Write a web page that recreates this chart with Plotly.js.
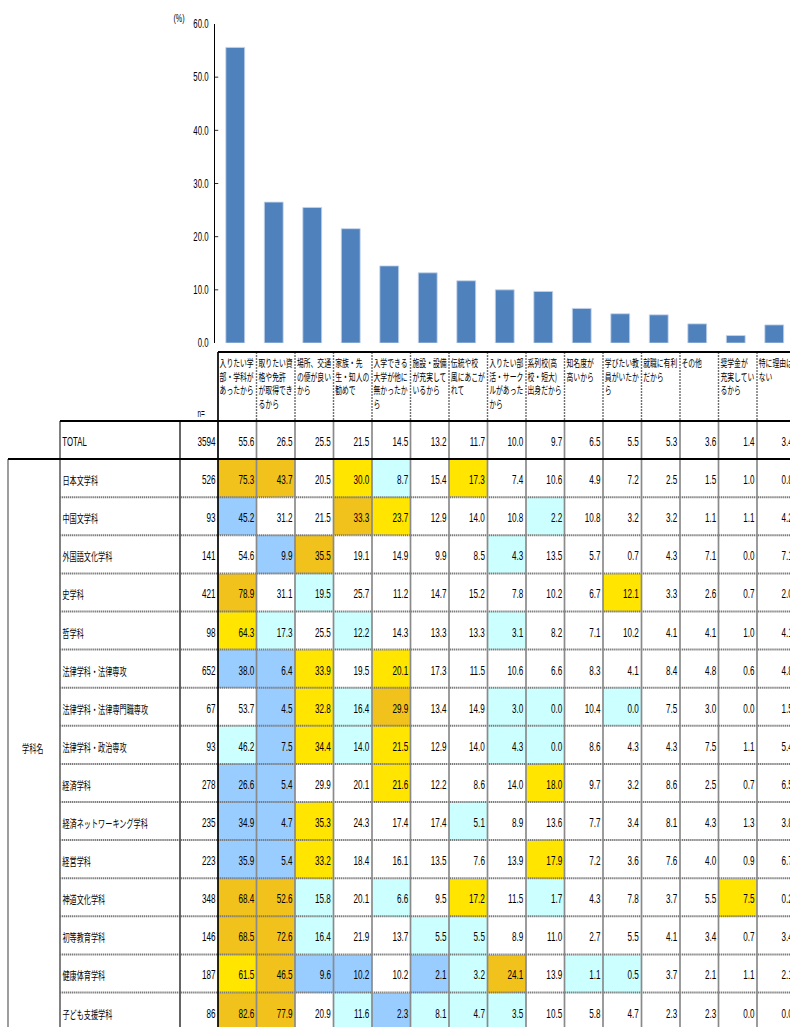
<!DOCTYPE html>
<html><head><meta charset="utf-8">
<script src="https://cdn.plot.ly/plotly-3.0.1.min.js"></script>
<style>
html,body{margin:0;padding:0;overflow:hidden;background:#fff;width:790px;height:1027px}
#chart{width:1278px;height:1027px;transform:scaleX(0.649671);transform-origin:0 0}
</style></head><body><div id="chart"></div>
<script>
// ---------------- DATA ----------------
const reasons = ['入りたい学部・学科があったから','取りたい資格や免許が取得できるから','場所、交通の便が良いから','家族・先生・知人の勧めで','入学できる大学が他に無かったから','施設・設備が充実しているから','伝統や校風にあこがれて','入りたい部活・サークルがあったから','系列校(高校・短大)出身だから','知名度が高いから','学びたい教員がいたから','就職に有利だから','その他','奨学金が充実しているから','特に理由はない'];
const reasonLabels = ['入りたい学<br>部・学科が<br>あったから','取りたい資<br>格や免許<br>が取得でき<br>るから','場所、交通<br>の便が良い<br>から','家族・先<br>生・知人の<br>勧めで','入学できる<br>大学が他に<br>無かったか<br>ら','施設・設備<br>が充実して<br>いるから','伝統や校<br>風にあこが<br>れて','入りたい部<br>活・サーク<br>ルがあった<br>から','系列校(高<br>校・短大)<br>出身だから','知名度が<br>高いから','学びたい教<br>員がいたか<br>ら','就職に有利<br>だから','その他','奨学金が<br>充実してい<br>るから','特に理由は<br>ない'];
const rowNames = ['TOTAL','日本文学科','中国文学科','外国語文化学科','史学科','哲学科','法律学科・法律専攻','法律学科・法律専門職専攻','法律学科・政治専攻','経済学科','経済ネットワーキング学科','経営学科','神道文化学科','初等教育学科','健康体育学科','子ども支援学科'];
const nValues = [3594,526,93,141,421,98,652,67,93,278,235,223,348,146,187,86];
const totalPct = [55.6,26.5,25.5,21.5,14.5,13.2,11.7,10.0,9.7,6.5,5.5,5.3,3.6,1.4,3.4];
const rowValues = [
  totalPct,
  [75.3,43.7,20.5,30.0,8.7,15.4,17.3,7.4,10.6,4.9,7.2,2.5,1.5,1.0,0.8],
  [45.2,31.2,21.5,33.3,23.7,12.9,14.0,10.8,2.2,10.8,3.2,3.2,1.1,1.1,4.2],
  [54.6,9.9,35.5,19.1,14.9,9.9,8.5,4.3,13.5,5.7,0.7,4.3,7.1,0.0,7.1],
  [78.9,31.1,19.5,25.7,11.2,14.7,15.2,7.8,10.2,6.7,12.1,3.3,2.6,0.7,2.0],
  [64.3,17.3,25.5,12.2,14.3,13.3,13.3,3.1,8.2,7.1,10.2,4.1,4.1,1.0,4.1],
  [38.0,6.4,33.9,19.5,20.1,17.3,11.5,10.6,6.6,8.3,4.1,8.4,4.8,0.6,4.8],
  [53.7,4.5,32.8,16.4,29.9,13.4,14.9,3.0,0.0,10.4,0.0,7.5,3.0,0.0,1.5],
  [46.2,7.5,34.4,14.0,21.5,12.9,14.0,4.3,0.0,8.6,4.3,4.3,7.5,1.1,5.4],
  [26.6,5.4,29.9,20.1,21.6,12.2,8.6,14.0,18.0,9.7,3.2,8.6,2.5,0.7,6.5],
  [34.9,4.7,35.3,24.3,17.4,17.4,5.1,8.9,13.6,7.7,3.4,8.1,4.3,1.3,3.8],
  [35.9,5.4,33.2,18.4,16.1,13.5,7.6,13.9,17.9,7.2,3.6,7.6,4.0,0.9,6.7],
  [68.4,52.6,15.8,20.1,6.6,9.5,17.2,11.5,1.7,4.3,7.8,3.7,5.5,7.5,0.2],
  [68.5,72.6,16.4,21.9,13.7,5.5,5.5,8.9,11.0,2.7,5.5,4.1,3.4,0.7,3.4],
  [61.5,46.5,9.6,10.2,10.2,2.1,3.2,24.1,13.9,1.1,0.5,3.7,2.1,1.1,2.1],
  [82.6,77.9,20.9,11.6,2.3,8.1,4.7,3.5,10.5,5.8,4.7,2.3,2.3,0.0,0.0]
];
// highlight class per cell: . none, c light cyan, b blue, y yellow, o orange
const highlights = [
  '...............',
  'oo.yc.y........',
  'b..oy...c......',
  '.bo....c.......',
  'o.c.......y....',
  'yc.c...c.......',
  'bby.y..........',
  '.byco..cc.c....',
  'cbycy..cc......',
  'bb..y...y......',
  'bby...c........',
  'bby.....y......',
  'ooc.c.y.c....y.',
  'ooc..cc........',
  'yobb.bco.cc....',
  'oo.cbccc.......'
];
const groupLabel = '学科名';

// ---------------- LAYOUT HELPERS (screen px) ----------------
const SCALE = 790 / 1216;
const FIG_W = 1278;                 // figure width before horizontal squeeze
const W = FIG_W * SCALE;            // figure width on screen (wider than the 790px window)
const VIEW_W = 790;
const H = 1027;
const px = x => x / W;
const py = y => 1 - y / H;
const COL0 = 218, COLW = 38.5;
const ROW0 = 421, ROWH = 38.1;
const HEAD_TOP = 352;
const BAR_LEFT = 215, BAR_SHIFT = -2;
const JP = '"Noto Sans CJK JP", sans-serif';
const NUM = '"Liberation Sans", Arial, sans-serif';
const classIndex = {'.':0,'c':1,'b':2,'y':3,'o':4};

const z = highlights.map(s => s.split('').map(ch => classIndex[ch]));

const bars = {
  type:'bar', x: reasons, y: totalPct, xaxis:'x', yaxis:'y',
  marker:{color:'#4F81BD', line:{color:'#C5D5EA', width:1}},
  hoverinfo:'skip'
};
const cells = {
  type:'heatmap', x: reasons, y: rowNames, z: z, xaxis:'x2', yaxis:'y2',
  zmin:0, zmax:4, showscale:false, hoverinfo:'skip',
  colorscale:[[0,'#FFFFFF'],[0.125,'#FFFFFF'],[0.125,'#CCFFFF'],[0.375,'#CCFFFF'],
              [0.375,'#99CCFF'],[0.625,'#99CCFF'],[0.625,'#FFE500'],[0.875,'#FFE500'],
              [0.875,'#F2C21C'],[1,'#F2C21C']]
};

const annotations = [];
// header labels
reasonLabels.forEach((t,i) => annotations.push({
  xref:'x2', yref:'paper', x: i - 0.5 + 0.5/COLW, y: py(HEAD_TOP+1),
  xanchor:'left', yanchor:'top', align:'left', text:t, showarrow:false,
  font:{family:JP, size:10.5, color:'#000'}
}));
// n=
annotations.push({xref:'paper', yref:'paper', x:px(196), y:py(414), xanchor:'left', yanchor:'middle',
  text:'n=', showarrow:false, font:{family:NUM, size:10, color:'#000'}});
// (%)
annotations.push({xref:'paper', yref:'paper', x:px(172), y:py(18), xanchor:'left', yanchor:'middle',
  text:'(%)', showarrow:false, font:{family:NUM, size:11, color:'#000'}});
// group label
annotations.push({xref:'paper', yref:'paper', x:px(33), y:py(748), xanchor:'center', yanchor:'middle',
  text:groupLabel, showarrow:false, font:{family:JP, size:11, color:'#000'}});
// rows
rowNames.forEach((name,k) => {
  annotations.push({xref:'paper', yref:'y2', x:px(61), y:k, yshift:-2, xanchor:'left', yanchor:'middle',
    text:name, showarrow:false, font:{family: k===0 ? NUM : JP, size: k===0 ? 12 : 11, color:'#000'}});
  annotations.push({xref:'paper', yref:'y2', x:px(217), y:k, yshift:-2, xanchor:'right', yanchor:'middle',
    text:String(nValues[k]), showarrow:false, font:{family:NUM, size:12.5, color:'#000'}});
  rowValues[k].forEach((v,i) => annotations.push({
    xref:'x2', yref:'y2', x: i + 0.5 - 1.5/COLW, y:k, yshift:-2, xanchor:'right', yanchor:'middle',
    text: v.toFixed(1), showarrow:false, font:{family:NUM, size:12.5, color:'#000'}
  }));
});

// grid lines
const shapes = [];
const hline = (y, x0, x1, color, width, dash) => shapes.push({type:'line', xref:'paper', yref:'paper',
  x0:px(x0), x1:px(x1), y0:py(y), y1:py(y), line:{color, width, dash:dash||'solid'}, layer:'above'});
const vline = (x, y0, y1, color, width, dash) => shapes.push({type:'line', xref:'paper', yref:'paper',
  x0:px(x), x1:px(x), y0:py(y0), y1:py(y1), line:{color, width, dash:dash||'solid'}, layer:'above'});

const TABLE_R = COL0 + reasons.length*COLW;
for (let k = 2; k < rowNames.length; k++) hline(ROW0 + k*ROWH, 60, TABLE_R, '#7a7a7a', 2, '2px,1px');
for (let i = 1; i <= reasons.length; i++) {
  const x = COL0 + i*COLW;
  vline(x, HEAD_TOP, ROW0, '#6e6e6e', 2.2, '2px,1px');
  vline(x, ROW0, H, '#8a8a8a', 2.6);
}
vline(8, ROW0 + ROWH, H, '#444', 1.6);
vline(60, ROW0, H, '#6a6a6a', 2.6);
vline(180, ROW0, H, '#555', 2.8);
vline(COL0, HEAD_TOP, H, '#000', 2.6);
hline(HEAD_TOP, COL0, TABLE_R, '#000', 2);
hline(ROW0, 60, TABLE_R, '#000', 2);
hline(ROW0 + ROWH, 8, TABLE_R, '#000', 2);

const barCenter0 = COL0 + COLW/2 + BAR_SHIFT;
const layout = {
  width:FIG_W, height:H, margin:{l:0,r:0,t:0,b:0},
  paper_bgcolor:'#fff', plot_bgcolor:'rgba(0,0,0,0)', showlegend:false,
  bargap:0.51,
  xaxis:{domain:[px(BAR_LEFT),1], anchor:'y', type:'category',
    range:[(BAR_LEFT - barCenter0)/COLW, (W - barCenter0)/COLW],
    showticklabels:false, showgrid:false, zeroline:false, showline:false, ticks:'', fixedrange:true},
  yaxis:{domain:[py(343), py(24)], anchor:'x', range:[0,60], dtick:10, tickformat:'.1f',
    showline:true, linecolor:'#000', linewidth:1.6, ticks:'inside', ticklen:5, tickwidth:1, tickcolor:'#000',
    showgrid:false, zeroline:false, ticklabelstandoff:6,
    tickfont:{family:NUM, size:12, color:'#000'}, fixedrange:true},
  xaxis2:{domain:[0,1], anchor:'y2', type:'category',
    range:[-(COL0 + COLW/2)/COLW, (W - COL0 - COLW/2)/COLW],
    showticklabels:false, showgrid:false, zeroline:false, showline:false, ticks:'', fixedrange:true},
  yaxis2:{domain:[0, py(ROW0)], anchor:'x2', type:'category',
    range:[(H - ROW0)/ROWH - 0.5, -0.5],
    showticklabels:false, showgrid:false, zeroline:false, showline:false, ticks:'', fixedrange:true},
  annotations, shapes
};
Plotly.newPlot('chart', [cells, bars], layout, {displayModeBar:false, staticPlot:true});
</script></body></html>
